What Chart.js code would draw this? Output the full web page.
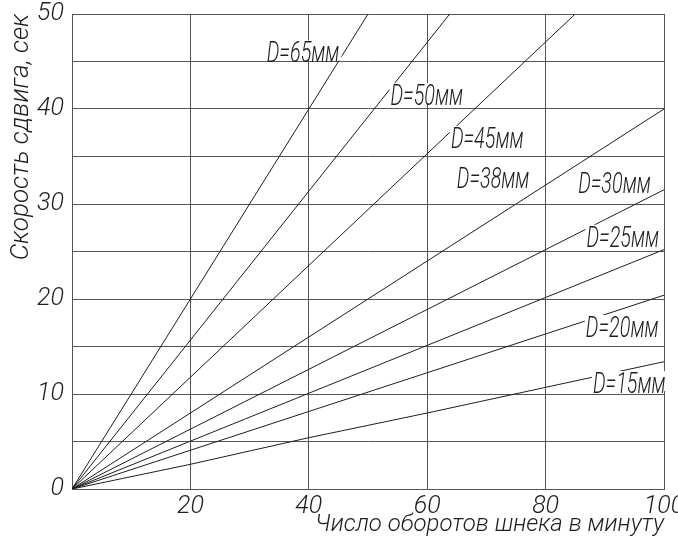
<!DOCTYPE html>
<html>
<head>
<meta charset="utf-8">
<script src="https://cdn.jsdelivr.net/npm/chart.js@4/dist/chart.umd.min.js"></script>
<style>
    body { margin: 0; background: #ffffff; }
    #grafico { display: block; }
</style>
</head>
<body>
<canvas id="grafico" width="678" height="539"></canvas>
<script>
// DATOS: CADA RECTA (DIAMETRO) CON SUS PUNTOS X (OBOROTY) E Y (SKOROST)
var diametros = ['D=65мм', 'D=50мм', 'D=45мм', 'D=38мм', 'D=30мм', 'D=25мм', 'D=20мм', 'D=15мм'];
var oborotos65 = [0, 50];
var skorost65 = [0, 50];
var oborotos50 = [0, 63.8];
var skorost50 = [0, 50];
var oborotos45 = [0, 85];
var skorost45 = [0, 50];
var oborotos38 = [0, 100];
var skorost38 = [0, 40];
var oborotos30 = [0, 100];
var skorost30 = [0, 31.5];
var oborotos25 = [0, 100];
var skorost25 = [0, 25.2];
var oborotos20 = [0, 100];
var skorost20 = [0, 20.4];
var oborotos15 = [0, 20, 40, 60, 80, 100];
var skorost15 = [0, 2.6, 5.4, 8, 10.7, 13.4];

var ticksX = [0, 20, 40, 60, 80, 100];
var ticksY = [0, 10, 20, 30, 40, 50];

var tituloX = 'Число оборотов шнека в минуту';
var tituloY = 'Скорость сдвига, сек';

// POSICION DE CADA ETIQUETA (ESQUINA IZQUIERDA, LINEA BASE) EN UNIDADES DEL GRAFICO
var etiquetas = [
    { texto: diametros[0], x: 32.9, y: 44.9 },
    { texto: diametros[1], x: 53.8, y: 40.4 },
    { texto: diametros[2], x: 64.0, y: 35.9 },
    { texto: diametros[3], x: 65.0, y: 31.7 },
    { texto: diametros[4], x: 85.5, y: 31.2 },
    { texto: diametros[5], x: 86.9, y: 25.5 },
    { texto: diametros[6], x: 86.8, y: 16.0 },
    { texto: diametros[7], x: 88.0, y: 10.1 }
];

var fuente = 'Roboto';
var colorTinta = '#1e1e1e';
var colorRejilla = '#555555';

function puntos(xs, ys) {
    var lista = [];
    for (var i = 0; i < xs.length; i++) {
        lista.push({ x: xs[i], y: ys[i] });
    }
    return lista;
}

function serie(nombre, xs, ys) {
    return {
        label: nombre,
        data: puntos(xs, ys),
        borderColor: colorTinta,
        borderWidth: 1,
        pointRadius: 0,
        fill: false,
        tension: 0
    };
}

// PLUGIN PARA LAS ETIQUETAS D=..мм, ESTRECHADAS COMO LA LETRA DEL DIBUJO
var pluginEtiquetas = {
    id: 'etiquetas',
    afterDatasetsDraw: function (chart) {
        var ctx = chart.ctx;
        var ejeX = chart.scales.x;
        var ejeY = chart.scales.y;
        var estrecho = 0.66;
        ctx.save();
        ctx.font = 'italic 300 30px ' + fuente;
        ctx.textBaseline = 'alphabetic';
        ctx.textAlign = 'left';
        for (var i = 0; i < etiquetas.length; i++) {
            var e = etiquetas[i];
            var px = ejeX.getPixelForValue(e.x);
            var py = ejeY.getPixelForValue(e.y);
            var ancho = ctx.measureText(e.texto).width * estrecho;
            ctx.fillStyle = '#ffffff';
            ctx.fillRect(px - 1, py - 22, ancho + 3, 20);
            ctx.save();
            ctx.translate(px, py);
            ctx.scale(estrecho, 1);
            ctx.fillStyle = colorTinta;
            ctx.fillText(e.texto, 0, 0);
            ctx.restore();
        }
        ctx.restore();
    }
};

var grafico = new Chart(document.getElementById('grafico'), {
    type: 'line',
    data: {
        datasets: [
            serie(diametros[0], oborotos65, skorost65),
            serie(diametros[1], oborotos50, skorost50),
            serie(diametros[2], oborotos45, skorost45),
            serie(diametros[3], oborotos38, skorost38),
            serie(diametros[4], oborotos30, skorost30),
            serie(diametros[5], oborotos25, skorost25),
            serie(diametros[6], oborotos20, skorost20),
            serie(diametros[7], oborotos15, skorost15)
        ]
    },
    options: {
        responsive: false,
        animation: false,
        devicePixelRatio: 1,
        layout: {
            padding: { left: 0, top: 14, right: 14, bottom: 0 }
        },
        plugins: {
            legend: { display: false },
            tooltip: { enabled: false }
        },
        scales: {
            x: {
                type: 'linear',
                min: 0,
                max: 100,
                afterBuildTicks: function (eje) {
                    eje.ticks = ticksX.map(function (v) { return { value: v }; });
                },
                afterFit: function (eje) {
                    eje.height = 50;
                    eje.paddingRight = 0;
                    eje.paddingLeft = 0;
                },
                grid: { color: colorRejilla, lineWidth: 1, drawTicks: false },
                border: { color: colorRejilla, width: 1 },
                ticks: {
                    color: colorTinta,
                    padding: 3,
                    maxRotation: 0,
                    font: { family: fuente, style: 'italic', weight: '300', size: 25 },
                    callback: function (v) { return v === 0 ? '' : v; }
                },
                title: {
                    display: true,
                    text: tituloX,
                    align: 'end',
                    color: colorTinta,
                    padding: { top: 4, bottom: 0 },
                    font: { family: fuente, style: 'italic', weight: '300', size: 24 }
                }
            },
            y: {
                type: 'linear',
                min: 0,
                max: 50,
                ticks: {
                    stepSize: 5,
                    color: colorTinta,
                    padding: 8,
                    font: { family: fuente, style: 'italic', weight: '300', size: 25 },
                    callback: function (v) { return ticksY.indexOf(v) >= 0 ? v : ''; }
                },
                afterFit: function (eje) {
                    eje.width = 72;
                    eje.paddingTop = 0;
                    eje.paddingBottom = 0;
                },
                grid: { color: colorRejilla, lineWidth: 1, drawTicks: false },
                border: { color: colorRejilla, width: 1 },
                title: {
                    display: true,
                    text: tituloY,
                    align: 'end',
                    color: colorTinta,
                    padding: { top: 6, bottom: 0 },
                    font: { family: fuente, style: 'italic', weight: '300', size: 26 }
                }
            }
        }
    },
    plugins: [pluginEtiquetas]
});
</script>
</body>
</html>
